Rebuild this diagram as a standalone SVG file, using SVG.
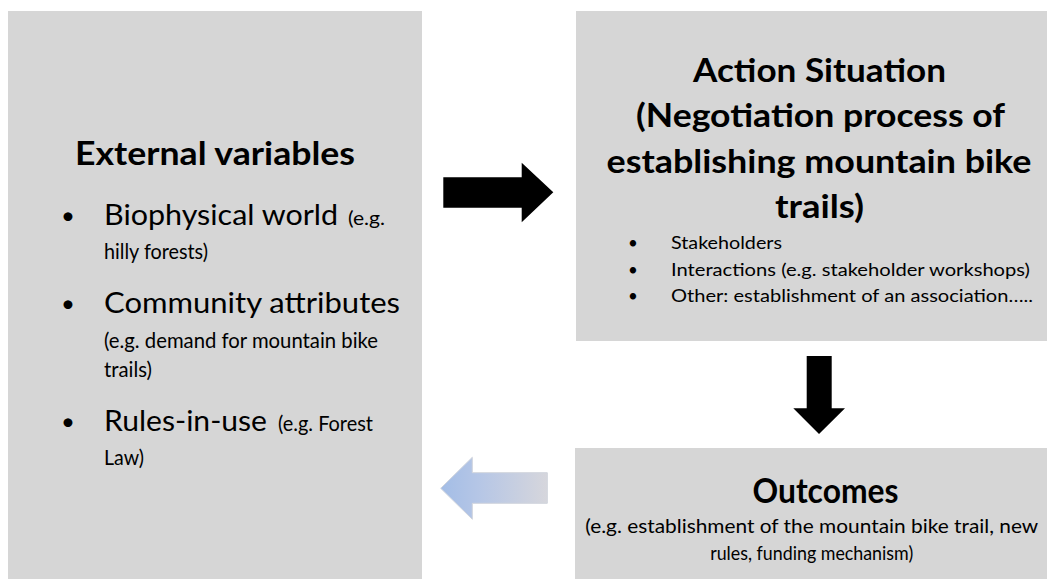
<svg xmlns="http://www.w3.org/2000/svg" width="1047" height="579" viewBox="0 0 1047 579">
<defs>
<style>
.box{fill:#d6d6d6}
.t{font-family:Lato,"Liberation Sans",sans-serif;fill:#000}
.b{font-weight:bold}
.arrow{fill:#000}
</style>
<linearGradient id="g1" x1="0" y1="0" x2="1" y2="0">
<stop offset="0" stop-color="#a3bde6"/>
<stop offset="0.35" stop-color="#b5c6e6"/>
<stop offset="1" stop-color="#d6d6dc"/>
</linearGradient>
</defs>
<rect width="1047" height="579" fill="#fff"/>
<g id="external">
<rect class="box" x="8" y="11" width="414" height="580"/>
<text class="t b" x="75" y="165" font-size="33" textLength="280" lengthAdjust="spacingAndGlyphs">External variables</text>
<text class="t" x="61" y="224" font-size="24">•</text>
<text class="t" x="104" y="225" font-size="29" textLength="234" lengthAdjust="spacingAndGlyphs">Biophysical world</text>
<text class="t" x="348" y="225" font-size="19" textLength="37" lengthAdjust="spacingAndGlyphs">(e.g.</text>
<text class="t" x="104" y="259" font-size="21" textLength="104" lengthAdjust="spacingAndGlyphs">hilly forests)</text>
<text class="t" x="61" y="312" font-size="24">•</text>
<text class="t" x="104" y="313" font-size="29" textLength="296" lengthAdjust="spacingAndGlyphs">Community attributes</text>
<text class="t" x="104" y="348" font-size="22" textLength="274" lengthAdjust="spacingAndGlyphs">(e.g. demand for mountain bike</text>
<text class="t" x="104" y="377" font-size="22" textLength="48" lengthAdjust="spacingAndGlyphs">trails)</text>
<text class="t" x="61" y="430" font-size="24">•</text>
<text class="t" x="104" y="431" font-size="29" textLength="163" lengthAdjust="spacingAndGlyphs">Rules-in-use</text>
<text class="t" x="278" y="431" font-size="21" textLength="95" lengthAdjust="spacingAndGlyphs">(e.g. Forest</text>
<text class="t" x="104" y="465" font-size="21" textLength="40" lengthAdjust="spacingAndGlyphs">Law)</text>
</g>
<g id="action">
<rect class="box" x="576" y="11" width="480" height="330"/>
<g class="t b" font-size="33" text-anchor="middle">
<text x="819.5" y="82" textLength="253" lengthAdjust="spacingAndGlyphs">Action Situation</text>
<text x="820.5" y="127" textLength="369" lengthAdjust="spacingAndGlyphs">(Negotiation process of</text>
<text x="819" y="173" textLength="425" lengthAdjust="spacingAndGlyphs">establishing mountain bike</text>
<text x="819.5" y="218" textLength="89" lengthAdjust="spacingAndGlyphs">trails)</text>
</g>
<g class="t" font-size="17">
<text x="628" y="249">•</text>
<text x="628" y="276">•</text>
<text x="628" y="302">•</text>
<text x="671" y="249" textLength="111" lengthAdjust="spacingAndGlyphs">Stakeholders</text>
<text x="671" y="276" textLength="359" lengthAdjust="spacingAndGlyphs">Interactions (e.g. stakeholder workshops)</text>
<text x="671" y="302" textLength="362" lengthAdjust="spacingAndGlyphs">Other: establishment of an association…..</text>
</g>
</g>
<g id="outcomes">
<rect class="box" x="575" y="448" width="480" height="140"/>
<text class="t b" x="825.5" y="503" font-size="34" text-anchor="middle" textLength="146" lengthAdjust="spacingAndGlyphs">Outcomes</text>
<text class="t" x="811.7" y="533" font-size="19" text-anchor="middle" textLength="453" lengthAdjust="spacingAndGlyphs">(e.g. establishment of the mountain bike trail, new</text>
<text class="t" x="811.7" y="560" font-size="19" text-anchor="middle" textLength="203" lengthAdjust="spacingAndGlyphs">rules, funding mechanism)</text>
</g>
<g id="connectors">
<polygon class="arrow" points="443.3,177.3 521.7,177.3 521.7,162.7 553.3,192.3 521.7,222.3 521.7,207.7 443.3,207.7"/>
<polygon class="arrow" points="806.7,356 831.7,356 831.7,408.3 845,408.3 819,434 793.3,408.3 806.7,408.3"/>
<polygon fill="url(#g1)" stroke="#d0d4dc" stroke-width="1" points="547.3,472.7 472.3,472.7 472.3,457.3 440.7,488.3 472.3,519.3 472.3,503.3 547.3,503.3"/>
</g>
</svg>
